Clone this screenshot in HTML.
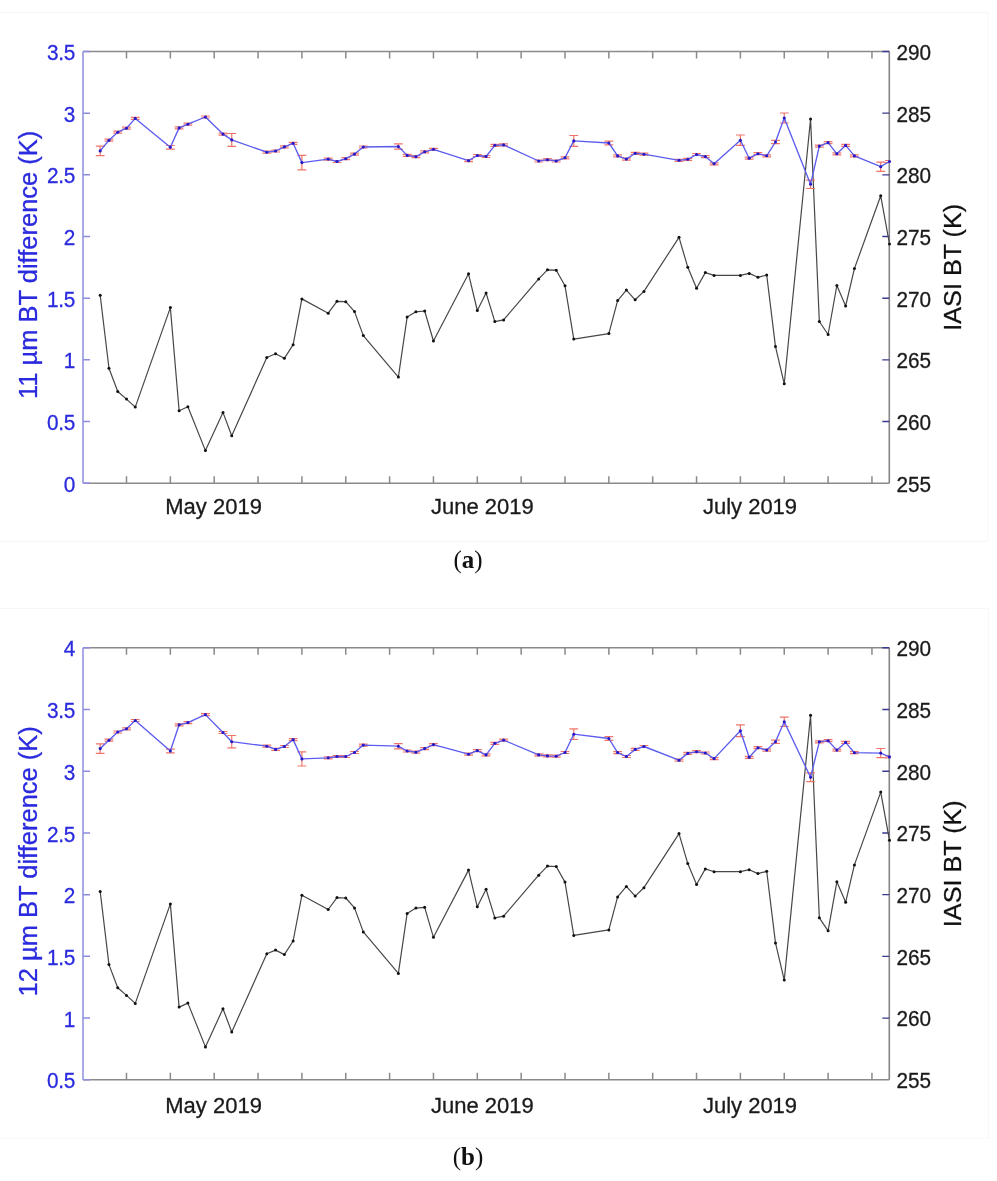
<!DOCTYPE html>
<html><head><meta charset="utf-8"><title>BT difference time series</title>
<style>
html,body{margin:0;padding:0;background:#fff;}
body{width:997px;height:1181px;overflow:hidden;}
svg{display:block;filter:blur(0.5px);}
.bl{fill:none;stroke:#474747;stroke-width:1.2;stroke-linejoin:round;}
.bd{fill:#111;}
.blu{fill:none;stroke:#5c5cee;stroke-width:1.35;stroke-linejoin:round;}
.eb{fill:none;stroke:#f07468;stroke-width:1.2;}
.bm{fill:#2418c8;}
.ax{fill:none;stroke:#8a8a8a;stroke-width:1.6;}
.axl{fill:none;stroke:#9a9ae2;stroke-width:1.7;}
.axr{fill:none;stroke:#858585;stroke-width:1.6;}
.xt{fill:none;stroke:#8a8a8a;stroke-width:1.5;}
.lt{fill:none;stroke:#8c8ce0;stroke-width:1.5;}
.rt{fill:none;stroke:#3a3a90;stroke-width:1.4;}
text{font-family:"Liberation Sans",Arial,sans-serif;}
.tl{font-size:22px;}
.lb{fill:#2a2ade;stroke:#2a2ade;stroke-width:0.3px;}
.rk{fill:#1a1a1a;stroke:#1a1a1a;stroke-width:0.3px;}
.rk2{fill:#111;stroke:#111;stroke-width:0.3px;}
.tl.lb{text-anchor:end;letter-spacing:-0.3px;}
.xl{font-size:22px;fill:#1a1a1a;stroke:#1a1a1a;stroke-width:0.3px;text-anchor:middle;}
.yl{font-size:25.2px;text-anchor:middle;}
.yll{font-size:25.5px;}
.cap{font-family:"Liberation Serif","Times New Roman",serif;font-size:25px;fill:#111;text-anchor:middle;}
.frame{fill:none;stroke:#f7f7f7;stroke-width:1;}
</style></head>
<body>
<svg width="997" height="1181" viewBox="0 0 997 1181">
<rect x="-1" y="12.5" width="989" height="529" class="frame"/>
<rect x="-1" y="608.5" width="989.5" height="529.5" class="frame"/>
<path d="M83 51.5H889.3" class="ax"/>
<path d="M83 483.2H889.3" class="ax"/>
<path d="M83 51.5V483.2" class="axl"/>
<path d="M889.3 51.5V483.2" class="axr"/>
<path d="M126.5 51.5v7M126.5 483.2v-7M170.35 51.5v7M170.35 483.2v-7M214.2 51.5v7M214.2 483.2v-7M258.05 51.5v7M258.05 483.2v-7M301.9 51.5v7M301.9 483.2v-7M345.75 51.5v7M345.75 483.2v-7M389.6 51.5v7M389.6 483.2v-7M433.45 51.5v7M433.45 483.2v-7M477.3 51.5v7M477.3 483.2v-7M521.15 51.5v7M521.15 483.2v-7M565 51.5v7M565 483.2v-7M608.85 51.5v7M608.85 483.2v-7M652.7 51.5v7M652.7 483.2v-7M696.55 51.5v7M696.55 483.2v-7M740.4 51.5v7M740.4 483.2v-7M784.25 51.5v7M784.25 483.2v-7M828.1 51.5v7M828.1 483.2v-7M871.95 51.5v7M871.95 483.2v-7" class="xt"/>
<path d="M83 483.2h7M83 421.53h7M83 359.86h7M83 298.19h7M83 236.51h7M83 174.84h7M83 113.17h7M83 51.5h7" class="lt"/>
<path d="M889.3 421.53h-7M889.3 359.86h-7M889.3 298.19h-7M889.3 236.51h-7M889.3 174.84h-7M889.3 113.17h-7M889.3 51.5h-7" class="rt"/>
<polyline points="100.19,295.2 108.96,368.3 117.73,391.5 126.5,399.1 135.27,407.1 170.35,307.6 179.12,410.8 187.89,406.8 205.43,450.6 222.97,412.4 231.74,435.7 266.82,357.5 275.59,353.8 284.36,358.3 293.13,344.7 301.9,298.9 328.21,313.2 336.98,301.3 345.75,301.7 354.52,311.6 363.29,335.6 398.37,377.1 407.14,317.1 415.91,311.8 424.68,311 433.45,341 468.53,273.8 477.3,310.5 486.07,293 494.84,321.6 503.61,319.9 538.69,278.9 547.46,269.8 556.23,270.2 565,285.8 573.77,339.1 608.85,333.6 617.62,300.6 626.39,290.1 635.16,299.8 643.93,291.4 679.01,237.3 687.78,267.3 696.55,288.2 705.32,272.6 714.09,275.4 740.4,275.4 749.17,273.4 757.94,277.3 766.71,275 775.48,346.6 784.25,383.8 810.56,119 819.33,321.5 828.1,334.5 836.87,285.5 845.64,306 854.41,268.6 880.72,195.8 889.49,244" class="bl"/>
<circle cx="100.19" cy="295.2" r="1.5" class="bd"/>
<circle cx="108.96" cy="368.3" r="1.5" class="bd"/>
<circle cx="117.73" cy="391.5" r="1.5" class="bd"/>
<circle cx="126.5" cy="399.1" r="1.5" class="bd"/>
<circle cx="135.27" cy="407.1" r="1.5" class="bd"/>
<circle cx="170.35" cy="307.6" r="1.5" class="bd"/>
<circle cx="179.12" cy="410.8" r="1.5" class="bd"/>
<circle cx="187.89" cy="406.8" r="1.5" class="bd"/>
<circle cx="205.43" cy="450.6" r="1.5" class="bd"/>
<circle cx="222.97" cy="412.4" r="1.5" class="bd"/>
<circle cx="231.74" cy="435.7" r="1.5" class="bd"/>
<circle cx="266.82" cy="357.5" r="1.5" class="bd"/>
<circle cx="275.59" cy="353.8" r="1.5" class="bd"/>
<circle cx="284.36" cy="358.3" r="1.5" class="bd"/>
<circle cx="293.13" cy="344.7" r="1.5" class="bd"/>
<circle cx="301.9" cy="298.9" r="1.5" class="bd"/>
<circle cx="328.21" cy="313.2" r="1.5" class="bd"/>
<circle cx="336.98" cy="301.3" r="1.5" class="bd"/>
<circle cx="345.75" cy="301.7" r="1.5" class="bd"/>
<circle cx="354.52" cy="311.6" r="1.5" class="bd"/>
<circle cx="363.29" cy="335.6" r="1.5" class="bd"/>
<circle cx="398.37" cy="377.1" r="1.5" class="bd"/>
<circle cx="407.14" cy="317.1" r="1.5" class="bd"/>
<circle cx="415.91" cy="311.8" r="1.5" class="bd"/>
<circle cx="424.68" cy="311" r="1.5" class="bd"/>
<circle cx="433.45" cy="341" r="1.5" class="bd"/>
<circle cx="468.53" cy="273.8" r="1.5" class="bd"/>
<circle cx="477.3" cy="310.5" r="1.5" class="bd"/>
<circle cx="486.07" cy="293" r="1.5" class="bd"/>
<circle cx="494.84" cy="321.6" r="1.5" class="bd"/>
<circle cx="503.61" cy="319.9" r="1.5" class="bd"/>
<circle cx="538.69" cy="278.9" r="1.5" class="bd"/>
<circle cx="547.46" cy="269.8" r="1.5" class="bd"/>
<circle cx="556.23" cy="270.2" r="1.5" class="bd"/>
<circle cx="565" cy="285.8" r="1.5" class="bd"/>
<circle cx="573.77" cy="339.1" r="1.5" class="bd"/>
<circle cx="608.85" cy="333.6" r="1.5" class="bd"/>
<circle cx="617.62" cy="300.6" r="1.5" class="bd"/>
<circle cx="626.39" cy="290.1" r="1.5" class="bd"/>
<circle cx="635.16" cy="299.8" r="1.5" class="bd"/>
<circle cx="643.93" cy="291.4" r="1.5" class="bd"/>
<circle cx="679.01" cy="237.3" r="1.5" class="bd"/>
<circle cx="687.78" cy="267.3" r="1.5" class="bd"/>
<circle cx="696.55" cy="288.2" r="1.5" class="bd"/>
<circle cx="705.32" cy="272.6" r="1.5" class="bd"/>
<circle cx="714.09" cy="275.4" r="1.5" class="bd"/>
<circle cx="740.4" cy="275.4" r="1.5" class="bd"/>
<circle cx="749.17" cy="273.4" r="1.5" class="bd"/>
<circle cx="757.94" cy="277.3" r="1.5" class="bd"/>
<circle cx="766.71" cy="275" r="1.5" class="bd"/>
<circle cx="775.48" cy="346.6" r="1.5" class="bd"/>
<circle cx="784.25" cy="383.8" r="1.5" class="bd"/>
<circle cx="810.56" cy="119" r="1.5" class="bd"/>
<circle cx="819.33" cy="321.5" r="1.5" class="bd"/>
<circle cx="828.1" cy="334.5" r="1.5" class="bd"/>
<circle cx="836.87" cy="285.5" r="1.5" class="bd"/>
<circle cx="845.64" cy="306" r="1.5" class="bd"/>
<circle cx="854.41" cy="268.6" r="1.5" class="bd"/>
<circle cx="880.72" cy="195.8" r="1.5" class="bd"/>
<circle cx="889.49" cy="244" r="1.5" class="bd"/>
<clipPath id="c51"><rect x="83" y="51.5" width="806.3" height="431.7"/></clipPath>
<path d="M100.19 146.1V155.7M95.79 146.1H104.59M95.79 155.7H104.59M108.96 139.2V141.2M104.56 139.2H113.36M104.56 141.2H113.36M117.73 131.2V133.2M113.33 131.2H122.13M113.33 133.2H122.13M126.5 127.2V129.2M122.1 127.2H130.9M122.1 129.2H130.9M135.27 117.4V119.4M130.87 117.4H139.67M130.87 119.4H139.67M170.35 145.5V149.1M165.95 145.5H174.75M165.95 149.1H174.75M179.12 126.9V128.9M174.72 126.9H183.52M174.72 128.9H183.52M187.89 123.2V125.2M183.49 123.2H192.29M183.49 125.2H192.29M205.43 116V118M201.03 116H209.83M201.03 118H209.83M222.97 133.1V135.1M218.57 133.1H227.37M218.57 135.1H227.37M231.74 133.5V146.3M227.34 133.5H236.14M227.34 146.3H236.14M266.82 151.2V153.2M262.42 151.2H271.22M262.42 153.2H271.22M275.59 150V152M271.19 150H279.99M271.19 152H279.99M284.36 145.9V147.9M279.96 145.9H288.76M279.96 147.9H288.76M293.13 142.3V144.3M288.73 142.3H297.53M288.73 144.3H297.53M301.9 155.3V169.9M297.5 155.3H306.3M297.5 169.9H306.3M328.21 158.1V160.1M323.81 158.1H332.61M323.81 160.1H332.61M336.98 160.5V162.5M332.58 160.5H341.38M332.58 162.5H341.38M345.75 157.7V159.7M341.35 157.7H350.15M341.35 159.7H350.15M354.52 153.1V155.1M350.12 153.1H358.92M350.12 155.1H358.92M363.29 146V148M358.89 146H367.69M358.89 148H367.69M398.37 143.9V149.1M393.97 143.9H402.77M393.97 149.1H402.77M407.14 154.4V156.4M402.74 154.4H411.54M402.74 156.4H411.54M415.91 155.7V157.7M411.51 155.7H420.31M411.51 157.7H420.31M424.68 150.8V152.8M420.28 150.8H429.08M420.28 152.8H429.08M433.45 148.3V150.3M429.05 148.3H437.85M429.05 150.3H437.85M468.53 159.7V161.7M464.13 159.7H472.93M464.13 161.7H472.93M477.3 154.5V156.5M472.9 154.5H481.7M472.9 156.5H481.7M486.07 155.5V157.5M481.67 155.5H490.47M481.67 157.5H490.47M494.84 144.3V146.3M490.44 144.3H499.24M490.44 146.3H499.24M503.61 143.9V145.9M499.21 143.9H508.01M499.21 145.9H508.01M538.69 160V162M534.29 160H543.09M534.29 162H543.09M547.46 158.7V160.7M543.06 158.7H551.86M543.06 160.7H551.86M556.23 160V162M551.83 160H560.63M551.83 162H560.63M565 156.8V158.8M560.6 156.8H569.4M560.6 158.8H569.4M573.77 135.5V146.3M569.37 135.5H578.17M569.37 146.3H578.17M608.85 141.2V144.8M604.45 141.2H613.25M604.45 144.8H613.25M617.62 154.9V156.9M613.22 154.9H622.02M613.22 156.9H622.02M626.39 158.1V160.1M621.99 158.1H630.79M621.99 160.1H630.79M635.16 152.3V154.3M630.76 152.3H639.56M630.76 154.3H639.56M643.93 153.2V155.2M639.53 153.2H648.33M639.53 155.2H648.33M679.01 159.3V161.3M674.61 159.3H683.41M674.61 161.3H683.41M687.78 158.3V160.3M683.38 158.3H692.18M683.38 160.3H692.18M696.55 153.5V155.5M692.15 153.5H700.95M692.15 155.5H700.95M705.32 155.6V157.6M700.92 155.6H709.72M700.92 157.6H709.72M714.09 162.8V164.8M709.69 162.8H718.49M709.69 164.8H718.49M740.4 135V145.4M736 135H744.8M736 145.4H744.8M749.17 157.2V159.2M744.77 157.2H753.57M744.77 159.2H753.57M757.94 152.7V154.7M753.54 152.7H762.34M753.54 154.7H762.34M766.71 154.8V156.8M762.31 154.8H771.11M762.31 156.8H771.11M775.48 140.4V143.6M771.08 140.4H779.88M771.08 143.6H779.88M784.25 113V123M779.85 113H788.65M779.85 123H788.65M810.56 180.1V188.5M806.16 180.1H814.96M806.16 188.5H814.96M819.33 145.1V147.1M814.93 145.1H823.73M814.93 147.1H823.73M828.1 141.6V143.6M823.7 141.6H832.5M823.7 143.6H832.5M836.87 152.8V154.8M832.47 152.8H841.27M832.47 154.8H841.27M845.64 144.4V146.4M841.24 144.4H850.04M841.24 146.4H850.04M854.41 154.9V156.9M850.01 154.9H858.81M850.01 156.9H858.81M880.72 162.1V171.3M876.32 162.1H885.12M876.32 171.3H885.12M889.49 160.5V162.5M885.09 160.5H893.89M885.09 162.5H893.89" class="eb" clip-path="url(#c51)"/>
<polyline points="100.19,150.9 108.96,140.2 117.73,132.2 126.5,128.2 135.27,118.4 170.35,147.3 179.12,127.9 187.89,124.2 205.43,117 222.97,134.1 231.74,139.9 266.82,152.2 275.59,151 284.36,146.9 293.13,143.3 301.9,162.6 328.21,159.1 336.98,161.5 345.75,158.7 354.52,154.1 363.29,147 398.37,146.5 407.14,155.4 415.91,156.7 424.68,151.8 433.45,149.3 468.53,160.7 477.3,155.5 486.07,156.5 494.84,145.3 503.61,144.9 538.69,161 547.46,159.7 556.23,161 565,157.8 573.77,140.9 608.85,143 617.62,155.9 626.39,159.1 635.16,153.3 643.93,154.2 679.01,160.3 687.78,159.3 696.55,154.5 705.32,156.6 714.09,163.8 740.4,140.2 749.17,158.2 757.94,153.7 766.71,155.8 775.48,142 784.25,118 810.56,184.3 819.33,146.1 828.1,142.6 836.87,153.8 845.64,145.4 854.41,155.9 880.72,166.7 889.49,161.5" class="blu"/>
<circle cx="100.19" cy="150.9" r="1.55" class="bm"/>
<circle cx="108.96" cy="140.2" r="1.55" class="bm"/>
<circle cx="117.73" cy="132.2" r="1.55" class="bm"/>
<circle cx="126.5" cy="128.2" r="1.55" class="bm"/>
<circle cx="135.27" cy="118.4" r="1.55" class="bm"/>
<circle cx="170.35" cy="147.3" r="1.55" class="bm"/>
<circle cx="179.12" cy="127.9" r="1.55" class="bm"/>
<circle cx="187.89" cy="124.2" r="1.55" class="bm"/>
<circle cx="205.43" cy="117" r="1.55" class="bm"/>
<circle cx="222.97" cy="134.1" r="1.55" class="bm"/>
<circle cx="231.74" cy="139.9" r="1.55" class="bm"/>
<circle cx="266.82" cy="152.2" r="1.55" class="bm"/>
<circle cx="275.59" cy="151" r="1.55" class="bm"/>
<circle cx="284.36" cy="146.9" r="1.55" class="bm"/>
<circle cx="293.13" cy="143.3" r="1.55" class="bm"/>
<circle cx="301.9" cy="162.6" r="1.55" class="bm"/>
<circle cx="328.21" cy="159.1" r="1.55" class="bm"/>
<circle cx="336.98" cy="161.5" r="1.55" class="bm"/>
<circle cx="345.75" cy="158.7" r="1.55" class="bm"/>
<circle cx="354.52" cy="154.1" r="1.55" class="bm"/>
<circle cx="363.29" cy="147" r="1.55" class="bm"/>
<circle cx="398.37" cy="146.5" r="1.55" class="bm"/>
<circle cx="407.14" cy="155.4" r="1.55" class="bm"/>
<circle cx="415.91" cy="156.7" r="1.55" class="bm"/>
<circle cx="424.68" cy="151.8" r="1.55" class="bm"/>
<circle cx="433.45" cy="149.3" r="1.55" class="bm"/>
<circle cx="468.53" cy="160.7" r="1.55" class="bm"/>
<circle cx="477.3" cy="155.5" r="1.55" class="bm"/>
<circle cx="486.07" cy="156.5" r="1.55" class="bm"/>
<circle cx="494.84" cy="145.3" r="1.55" class="bm"/>
<circle cx="503.61" cy="144.9" r="1.55" class="bm"/>
<circle cx="538.69" cy="161" r="1.55" class="bm"/>
<circle cx="547.46" cy="159.7" r="1.55" class="bm"/>
<circle cx="556.23" cy="161" r="1.55" class="bm"/>
<circle cx="565" cy="157.8" r="1.55" class="bm"/>
<circle cx="573.77" cy="140.9" r="1.55" class="bm"/>
<circle cx="608.85" cy="143" r="1.55" class="bm"/>
<circle cx="617.62" cy="155.9" r="1.55" class="bm"/>
<circle cx="626.39" cy="159.1" r="1.55" class="bm"/>
<circle cx="635.16" cy="153.3" r="1.55" class="bm"/>
<circle cx="643.93" cy="154.2" r="1.55" class="bm"/>
<circle cx="679.01" cy="160.3" r="1.55" class="bm"/>
<circle cx="687.78" cy="159.3" r="1.55" class="bm"/>
<circle cx="696.55" cy="154.5" r="1.55" class="bm"/>
<circle cx="705.32" cy="156.6" r="1.55" class="bm"/>
<circle cx="714.09" cy="163.8" r="1.55" class="bm"/>
<circle cx="740.4" cy="140.2" r="1.55" class="bm"/>
<circle cx="749.17" cy="158.2" r="1.55" class="bm"/>
<circle cx="757.94" cy="153.7" r="1.55" class="bm"/>
<circle cx="766.71" cy="155.8" r="1.55" class="bm"/>
<circle cx="775.48" cy="142" r="1.55" class="bm"/>
<circle cx="784.25" cy="118" r="1.55" class="bm"/>
<circle cx="810.56" cy="184.3" r="1.55" class="bm"/>
<circle cx="819.33" cy="146.1" r="1.55" class="bm"/>
<circle cx="828.1" cy="142.6" r="1.55" class="bm"/>
<circle cx="836.87" cy="153.8" r="1.55" class="bm"/>
<circle cx="845.64" cy="145.4" r="1.55" class="bm"/>
<circle cx="854.41" cy="155.9" r="1.55" class="bm"/>
<circle cx="880.72" cy="166.7" r="1.55" class="bm"/>
<circle cx="889.49" cy="161.5" r="1.55" class="bm"/>
<text transform="translate(75 491.8) scale(0.944 1)" class="tl lb">0</text>
<text transform="translate(75 430.13) scale(0.944 1)" class="tl lb">0.5</text>
<text transform="translate(75 368.46) scale(0.944 1)" class="tl lb">1</text>
<text transform="translate(75 306.79) scale(0.944 1)" class="tl lb">1.5</text>
<text transform="translate(75 245.11) scale(0.944 1)" class="tl lb">2</text>
<text transform="translate(75 183.44) scale(0.944 1)" class="tl lb">2.5</text>
<text transform="translate(75 121.77) scale(0.944 1)" class="tl lb">3</text>
<text transform="translate(75 60.1) scale(0.944 1)" class="tl lb">3.5</text>
<text transform="translate(896.5 491.6) scale(0.944 1)" class="tl rk">255</text>
<text transform="translate(896.5 429.93) scale(0.944 1)" class="tl rk">260</text>
<text transform="translate(896.5 368.26) scale(0.944 1)" class="tl rk">265</text>
<text transform="translate(896.5 306.59) scale(0.944 1)" class="tl rk">270</text>
<text transform="translate(896.5 244.91) scale(0.944 1)" class="tl rk">275</text>
<text transform="translate(896.5 183.24) scale(0.944 1)" class="tl rk">280</text>
<text transform="translate(896.5 121.57) scale(0.944 1)" class="tl rk">285</text>
<text transform="translate(896.5 59.9) scale(0.944 1)" class="tl rk">290</text>
<text x="213.6" y="513.7" class="xl">May 2019</text>
<text x="482.3" y="513.7" class="xl">June 2019</text>
<text x="750" y="513.7" class="xl">July 2019</text>
<text transform="translate(36.7 264.85) rotate(-90)" class="yl yll lb">11 µm BT difference (K)</text>
<text transform="translate(960.8 267.25) scale(0.945 1) rotate(-90)" class="yl rk2">IASI BT (K)</text>
<path d="M83 647.8H889.3" class="ax"/>
<path d="M83 1079.8H889.3" class="ax"/>
<path d="M83 647.8V1079.8" class="axl"/>
<path d="M889.3 647.8V1079.8" class="axr"/>
<path d="M126.5 647.8v7M126.5 1079.8v-7M170.35 647.8v7M170.35 1079.8v-7M214.2 647.8v7M214.2 1079.8v-7M258.05 647.8v7M258.05 1079.8v-7M301.9 647.8v7M301.9 1079.8v-7M345.75 647.8v7M345.75 1079.8v-7M389.6 647.8v7M389.6 1079.8v-7M433.45 647.8v7M433.45 1079.8v-7M477.3 647.8v7M477.3 1079.8v-7M521.15 647.8v7M521.15 1079.8v-7M565 647.8v7M565 1079.8v-7M608.85 647.8v7M608.85 1079.8v-7M652.7 647.8v7M652.7 1079.8v-7M696.55 647.8v7M696.55 1079.8v-7M740.4 647.8v7M740.4 1079.8v-7M784.25 647.8v7M784.25 1079.8v-7M828.1 647.8v7M828.1 1079.8v-7M871.95 647.8v7M871.95 1079.8v-7" class="xt"/>
<path d="M83 1079.8h7M83 1018.09h7M83 956.37h7M83 894.66h7M83 832.94h7M83 771.23h7M83 709.51h7M83 647.8h7" class="lt"/>
<path d="M889.3 1018.09h-7M889.3 956.37h-7M889.3 894.66h-7M889.3 832.94h-7M889.3 771.23h-7M889.3 709.51h-7M889.3 647.8h-7" class="rt"/>
<polyline points="100.19,891.5 108.96,964.6 117.73,987.8 126.5,995.4 135.27,1003.4 170.35,903.9 179.12,1007.1 187.89,1003.1 205.43,1046.9 222.97,1008.7 231.74,1032 266.82,953.8 275.59,950.1 284.36,954.6 293.13,941 301.9,895.2 328.21,909.5 336.98,897.6 345.75,898 354.52,907.9 363.29,931.9 398.37,973.4 407.14,913.4 415.91,908.1 424.68,907.3 433.45,937.3 468.53,870.1 477.3,906.8 486.07,889.3 494.84,917.9 503.61,916.2 538.69,875.2 547.46,866.1 556.23,866.5 565,882.1 573.77,935.4 608.85,929.9 617.62,896.9 626.39,886.4 635.16,896.1 643.93,887.7 679.01,833.6 687.78,863.6 696.55,884.5 705.32,868.9 714.09,871.7 740.4,871.7 749.17,869.7 757.94,873.6 766.71,871.3 775.48,942.9 784.25,980.1 810.56,715.3 819.33,917.8 828.1,930.8 836.87,881.8 845.64,902.3 854.41,864.9 880.72,792.1 889.49,840.3" class="bl"/>
<circle cx="100.19" cy="891.5" r="1.5" class="bd"/>
<circle cx="108.96" cy="964.6" r="1.5" class="bd"/>
<circle cx="117.73" cy="987.8" r="1.5" class="bd"/>
<circle cx="126.5" cy="995.4" r="1.5" class="bd"/>
<circle cx="135.27" cy="1003.4" r="1.5" class="bd"/>
<circle cx="170.35" cy="903.9" r="1.5" class="bd"/>
<circle cx="179.12" cy="1007.1" r="1.5" class="bd"/>
<circle cx="187.89" cy="1003.1" r="1.5" class="bd"/>
<circle cx="205.43" cy="1046.9" r="1.5" class="bd"/>
<circle cx="222.97" cy="1008.7" r="1.5" class="bd"/>
<circle cx="231.74" cy="1032" r="1.5" class="bd"/>
<circle cx="266.82" cy="953.8" r="1.5" class="bd"/>
<circle cx="275.59" cy="950.1" r="1.5" class="bd"/>
<circle cx="284.36" cy="954.6" r="1.5" class="bd"/>
<circle cx="293.13" cy="941" r="1.5" class="bd"/>
<circle cx="301.9" cy="895.2" r="1.5" class="bd"/>
<circle cx="328.21" cy="909.5" r="1.5" class="bd"/>
<circle cx="336.98" cy="897.6" r="1.5" class="bd"/>
<circle cx="345.75" cy="898" r="1.5" class="bd"/>
<circle cx="354.52" cy="907.9" r="1.5" class="bd"/>
<circle cx="363.29" cy="931.9" r="1.5" class="bd"/>
<circle cx="398.37" cy="973.4" r="1.5" class="bd"/>
<circle cx="407.14" cy="913.4" r="1.5" class="bd"/>
<circle cx="415.91" cy="908.1" r="1.5" class="bd"/>
<circle cx="424.68" cy="907.3" r="1.5" class="bd"/>
<circle cx="433.45" cy="937.3" r="1.5" class="bd"/>
<circle cx="468.53" cy="870.1" r="1.5" class="bd"/>
<circle cx="477.3" cy="906.8" r="1.5" class="bd"/>
<circle cx="486.07" cy="889.3" r="1.5" class="bd"/>
<circle cx="494.84" cy="917.9" r="1.5" class="bd"/>
<circle cx="503.61" cy="916.2" r="1.5" class="bd"/>
<circle cx="538.69" cy="875.2" r="1.5" class="bd"/>
<circle cx="547.46" cy="866.1" r="1.5" class="bd"/>
<circle cx="556.23" cy="866.5" r="1.5" class="bd"/>
<circle cx="565" cy="882.1" r="1.5" class="bd"/>
<circle cx="573.77" cy="935.4" r="1.5" class="bd"/>
<circle cx="608.85" cy="929.9" r="1.5" class="bd"/>
<circle cx="617.62" cy="896.9" r="1.5" class="bd"/>
<circle cx="626.39" cy="886.4" r="1.5" class="bd"/>
<circle cx="635.16" cy="896.1" r="1.5" class="bd"/>
<circle cx="643.93" cy="887.7" r="1.5" class="bd"/>
<circle cx="679.01" cy="833.6" r="1.5" class="bd"/>
<circle cx="687.78" cy="863.6" r="1.5" class="bd"/>
<circle cx="696.55" cy="884.5" r="1.5" class="bd"/>
<circle cx="705.32" cy="868.9" r="1.5" class="bd"/>
<circle cx="714.09" cy="871.7" r="1.5" class="bd"/>
<circle cx="740.4" cy="871.7" r="1.5" class="bd"/>
<circle cx="749.17" cy="869.7" r="1.5" class="bd"/>
<circle cx="757.94" cy="873.6" r="1.5" class="bd"/>
<circle cx="766.71" cy="871.3" r="1.5" class="bd"/>
<circle cx="775.48" cy="942.9" r="1.5" class="bd"/>
<circle cx="784.25" cy="980.1" r="1.5" class="bd"/>
<circle cx="810.56" cy="715.3" r="1.5" class="bd"/>
<circle cx="819.33" cy="917.8" r="1.5" class="bd"/>
<circle cx="828.1" cy="930.8" r="1.5" class="bd"/>
<circle cx="836.87" cy="881.8" r="1.5" class="bd"/>
<circle cx="845.64" cy="902.3" r="1.5" class="bd"/>
<circle cx="854.41" cy="864.9" r="1.5" class="bd"/>
<circle cx="880.72" cy="792.1" r="1.5" class="bd"/>
<circle cx="889.49" cy="840.3" r="1.5" class="bd"/>
<clipPath id="c647"><rect x="83" y="647.8" width="806.3" height="432"/></clipPath>
<path d="M100.19 743.8V753.4M95.79 743.8H104.59M95.79 753.4H104.59M108.96 739.2V741.2M104.56 739.2H113.36M104.56 741.2H113.36M117.73 731V733M113.33 731H122.13M113.33 733H122.13M126.5 727.8V729.8M122.1 727.8H130.9M122.1 729.8H130.9M135.27 719.5V721.5M130.87 719.5H139.67M130.87 721.5H139.67M170.35 749.2V752.8M165.95 749.2H174.75M165.95 752.8H174.75M179.12 723.8V725.8M174.72 723.8H183.52M174.72 725.8H183.52M187.89 721.6V723.6M183.49 721.6H192.29M183.49 723.6H192.29M205.43 713.6V715.6M201.03 713.6H209.83M201.03 715.6H209.83M222.97 731.5V733.5M218.57 731.5H227.37M218.57 733.5H227.37M231.74 735.5V747.9M227.34 735.5H236.14M227.34 747.9H236.14M266.82 745.2V747.2M262.42 745.2H271.22M262.42 747.2H271.22M275.59 748.4V750.4M271.19 748.4H279.99M271.19 750.4H279.99M284.36 745.5V747.5M279.96 745.5H288.76M279.96 747.5H288.76M293.13 738.6V740.6M288.73 738.6H297.53M288.73 740.6H297.53M301.9 751.8V766M297.5 751.8H306.3M297.5 766H306.3M328.21 756.8V758.8M323.81 756.8H332.61M323.81 758.8H332.61M336.98 755.5V757.5M332.58 755.5H341.38M332.58 757.5H341.38M345.75 755.5V757.5M341.35 755.5H350.15M341.35 757.5H350.15M354.52 751.5V753.5M350.12 751.5H358.92M350.12 753.5H358.92M363.29 744.1V746.1M358.89 744.1H367.69M358.89 746.1H367.69M398.37 743.6V748.8M393.97 743.6H402.77M393.97 748.8H402.77M407.14 750V752M402.74 750H411.54M402.74 752H411.54M415.91 751.2V753.2M411.51 751.2H420.31M411.51 753.2H420.31M424.68 747.6V749.6M420.28 747.6H429.08M420.28 749.6H429.08M433.45 743.6V745.6M429.05 743.6H437.85M429.05 745.6H437.85M468.53 753.2V755.2M464.13 753.2H472.93M464.13 755.2H472.93M477.3 749.6V751.6M472.9 749.6H481.7M472.9 751.6H481.7M486.07 753.9V755.9M481.67 753.9H490.47M481.67 755.9H490.47M494.84 742.3V744.3M490.44 742.3H499.24M490.44 744.3H499.24M503.61 739.1V741.1M499.21 739.1H508.01M499.21 741.1H508.01M538.69 753.9V755.9M534.29 753.9H543.09M534.29 755.9H543.09M547.46 754.9V756.9M543.06 754.9H551.86M543.06 756.9H551.86M556.23 755.2V757.2M551.83 755.2H560.63M551.83 757.2H560.63M565 751.5V753.5M560.6 751.5H569.4M560.6 753.5H569.4M573.77 728.9V739.5M569.37 728.9H578.17M569.37 739.5H578.17M608.85 736.7V740.3M604.45 736.7H613.25M604.45 740.3H613.25M617.62 751.6V753.6M613.22 751.6H622.02M613.22 753.6H622.02M626.39 755.5V757.5M621.99 755.5H630.79M621.99 757.5H630.79M635.16 748.4V750.4M630.76 748.4H639.56M630.76 750.4H639.56M643.93 745.5V747.5M639.53 745.5H648.33M639.53 747.5H648.33M679.01 759.2V761.2M674.61 759.2H683.41M674.61 761.2H683.41M687.78 752.4V754.4M683.38 752.4H692.18M683.38 754.4H692.18M696.55 750.7V752.7M692.15 750.7H700.95M692.15 752.7H700.95M705.32 752V754M700.92 752H709.72M700.92 754H709.72M714.09 757.6V759.6M709.69 757.6H718.49M709.69 759.6H718.49M740.4 724.9V736.7M736 724.9H744.8M736 736.7H744.8M749.17 756.3V758.3M744.77 756.3H753.57M744.77 758.3H753.57M757.94 746.7V748.7M753.54 746.7H762.34M753.54 748.7H762.34M766.71 749.1V751.1M762.31 749.1H771.11M762.31 751.1H771.11M775.48 740.1V743.3M771.08 740.1H779.88M771.08 743.3H779.88M784.25 717.1V726.5M779.85 717.1H788.65M779.85 726.5H788.65M810.56 772.8V781.6M806.16 772.8H814.96M806.16 781.6H814.96M819.33 740.8V742.8M814.93 740.8H823.73M814.93 742.8H823.73M828.1 739.7V741.7M823.7 739.7H832.5M823.7 741.7H832.5M836.87 749.1V751.1M832.47 749.1H841.27M832.47 751.1H841.27M845.64 741.4V743.4M841.24 741.4H850.04M841.24 743.4H850.04M854.41 751.7V753.7M850.01 751.7H858.81M850.01 753.7H858.81M880.72 748.5V757.7M876.32 748.5H885.12M876.32 757.7H885.12M889.49 755.9V757.9M885.09 755.9H893.89M885.09 757.9H893.89" class="eb" clip-path="url(#c647)"/>
<polyline points="100.19,748.6 108.96,740.2 117.73,732 126.5,728.8 135.27,720.5 170.35,751 179.12,724.8 187.89,722.6 205.43,714.6 222.97,732.5 231.74,741.7 266.82,746.2 275.59,749.4 284.36,746.5 293.13,739.6 301.9,758.9 328.21,757.8 336.98,756.5 345.75,756.5 354.52,752.5 363.29,745.1 398.37,746.2 407.14,751 415.91,752.2 424.68,748.6 433.45,744.6 468.53,754.2 477.3,750.6 486.07,754.9 494.84,743.3 503.61,740.1 538.69,754.9 547.46,755.9 556.23,756.2 565,752.5 573.77,734.2 608.85,738.5 617.62,752.6 626.39,756.5 635.16,749.4 643.93,746.5 679.01,760.2 687.78,753.4 696.55,751.7 705.32,753 714.09,758.6 740.4,730.8 749.17,757.3 757.94,747.7 766.71,750.1 775.48,741.7 784.25,721.8 810.56,777.2 819.33,741.8 828.1,740.7 836.87,750.1 845.64,742.4 854.41,752.7 880.72,753.1 889.49,756.9" class="blu"/>
<circle cx="100.19" cy="748.6" r="1.55" class="bm"/>
<circle cx="108.96" cy="740.2" r="1.55" class="bm"/>
<circle cx="117.73" cy="732" r="1.55" class="bm"/>
<circle cx="126.5" cy="728.8" r="1.55" class="bm"/>
<circle cx="135.27" cy="720.5" r="1.55" class="bm"/>
<circle cx="170.35" cy="751" r="1.55" class="bm"/>
<circle cx="179.12" cy="724.8" r="1.55" class="bm"/>
<circle cx="187.89" cy="722.6" r="1.55" class="bm"/>
<circle cx="205.43" cy="714.6" r="1.55" class="bm"/>
<circle cx="222.97" cy="732.5" r="1.55" class="bm"/>
<circle cx="231.74" cy="741.7" r="1.55" class="bm"/>
<circle cx="266.82" cy="746.2" r="1.55" class="bm"/>
<circle cx="275.59" cy="749.4" r="1.55" class="bm"/>
<circle cx="284.36" cy="746.5" r="1.55" class="bm"/>
<circle cx="293.13" cy="739.6" r="1.55" class="bm"/>
<circle cx="301.9" cy="758.9" r="1.55" class="bm"/>
<circle cx="328.21" cy="757.8" r="1.55" class="bm"/>
<circle cx="336.98" cy="756.5" r="1.55" class="bm"/>
<circle cx="345.75" cy="756.5" r="1.55" class="bm"/>
<circle cx="354.52" cy="752.5" r="1.55" class="bm"/>
<circle cx="363.29" cy="745.1" r="1.55" class="bm"/>
<circle cx="398.37" cy="746.2" r="1.55" class="bm"/>
<circle cx="407.14" cy="751" r="1.55" class="bm"/>
<circle cx="415.91" cy="752.2" r="1.55" class="bm"/>
<circle cx="424.68" cy="748.6" r="1.55" class="bm"/>
<circle cx="433.45" cy="744.6" r="1.55" class="bm"/>
<circle cx="468.53" cy="754.2" r="1.55" class="bm"/>
<circle cx="477.3" cy="750.6" r="1.55" class="bm"/>
<circle cx="486.07" cy="754.9" r="1.55" class="bm"/>
<circle cx="494.84" cy="743.3" r="1.55" class="bm"/>
<circle cx="503.61" cy="740.1" r="1.55" class="bm"/>
<circle cx="538.69" cy="754.9" r="1.55" class="bm"/>
<circle cx="547.46" cy="755.9" r="1.55" class="bm"/>
<circle cx="556.23" cy="756.2" r="1.55" class="bm"/>
<circle cx="565" cy="752.5" r="1.55" class="bm"/>
<circle cx="573.77" cy="734.2" r="1.55" class="bm"/>
<circle cx="608.85" cy="738.5" r="1.55" class="bm"/>
<circle cx="617.62" cy="752.6" r="1.55" class="bm"/>
<circle cx="626.39" cy="756.5" r="1.55" class="bm"/>
<circle cx="635.16" cy="749.4" r="1.55" class="bm"/>
<circle cx="643.93" cy="746.5" r="1.55" class="bm"/>
<circle cx="679.01" cy="760.2" r="1.55" class="bm"/>
<circle cx="687.78" cy="753.4" r="1.55" class="bm"/>
<circle cx="696.55" cy="751.7" r="1.55" class="bm"/>
<circle cx="705.32" cy="753" r="1.55" class="bm"/>
<circle cx="714.09" cy="758.6" r="1.55" class="bm"/>
<circle cx="740.4" cy="730.8" r="1.55" class="bm"/>
<circle cx="749.17" cy="757.3" r="1.55" class="bm"/>
<circle cx="757.94" cy="747.7" r="1.55" class="bm"/>
<circle cx="766.71" cy="750.1" r="1.55" class="bm"/>
<circle cx="775.48" cy="741.7" r="1.55" class="bm"/>
<circle cx="784.25" cy="721.8" r="1.55" class="bm"/>
<circle cx="810.56" cy="777.2" r="1.55" class="bm"/>
<circle cx="819.33" cy="741.8" r="1.55" class="bm"/>
<circle cx="828.1" cy="740.7" r="1.55" class="bm"/>
<circle cx="836.87" cy="750.1" r="1.55" class="bm"/>
<circle cx="845.64" cy="742.4" r="1.55" class="bm"/>
<circle cx="854.41" cy="752.7" r="1.55" class="bm"/>
<circle cx="880.72" cy="753.1" r="1.55" class="bm"/>
<circle cx="889.49" cy="756.9" r="1.55" class="bm"/>
<text transform="translate(75 1088.4) scale(0.944 1)" class="tl lb">0.5</text>
<text transform="translate(75 1026.69) scale(0.944 1)" class="tl lb">1</text>
<text transform="translate(75 964.97) scale(0.944 1)" class="tl lb">1.5</text>
<text transform="translate(75 903.26) scale(0.944 1)" class="tl lb">2</text>
<text transform="translate(75 841.54) scale(0.944 1)" class="tl lb">2.5</text>
<text transform="translate(75 779.83) scale(0.944 1)" class="tl lb">3</text>
<text transform="translate(75 718.11) scale(0.944 1)" class="tl lb">3.5</text>
<text transform="translate(75 656.4) scale(0.944 1)" class="tl lb">4</text>
<text transform="translate(896.5 1088.2) scale(0.944 1)" class="tl rk">255</text>
<text transform="translate(896.5 1026.49) scale(0.944 1)" class="tl rk">260</text>
<text transform="translate(896.5 964.77) scale(0.944 1)" class="tl rk">265</text>
<text transform="translate(896.5 903.06) scale(0.944 1)" class="tl rk">270</text>
<text transform="translate(896.5 841.34) scale(0.944 1)" class="tl rk">275</text>
<text transform="translate(896.5 779.63) scale(0.944 1)" class="tl rk">280</text>
<text transform="translate(896.5 717.91) scale(0.944 1)" class="tl rk">285</text>
<text transform="translate(896.5 656.2) scale(0.944 1)" class="tl rk">290</text>
<text x="213.6" y="1112.8" class="xl">May 2019</text>
<text x="482.3" y="1112.8" class="xl">June 2019</text>
<text x="750" y="1112.8" class="xl">July 2019</text>
<text transform="translate(36.7 861.3) rotate(-90)" class="yl yll lb">12 µm BT difference (K)</text>
<text transform="translate(960.8 863.7) scale(0.945 1) rotate(-90)" class="yl rk2">IASI BT (K)</text>
<text x="468" y="567.5" class="cap">(<tspan font-weight="bold">a</tspan>)</text>
<text x="468" y="1164.5" class="cap">(<tspan font-weight="bold">b</tspan>)</text>
</svg>
</body></html>
